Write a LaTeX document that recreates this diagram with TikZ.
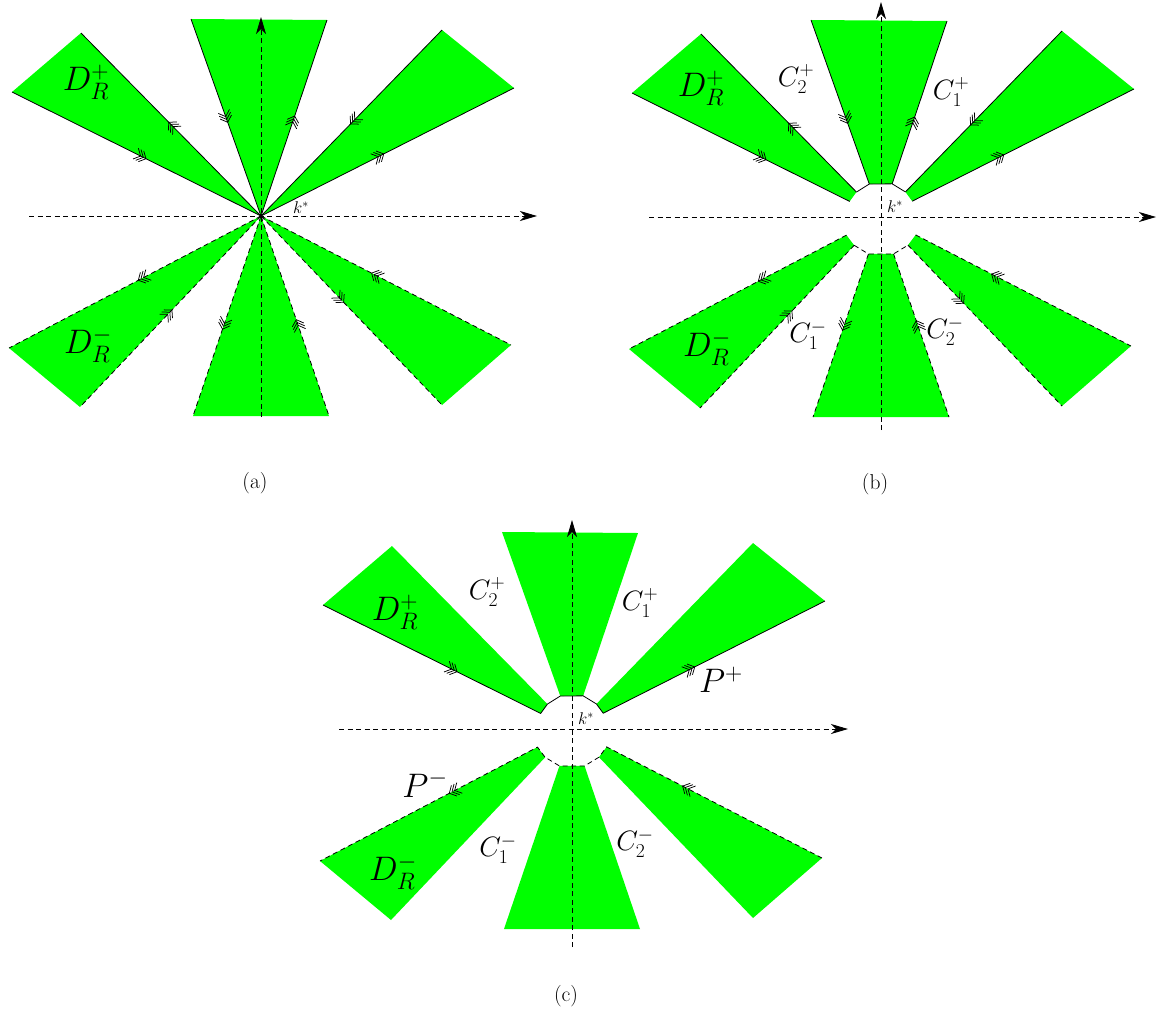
\RequirePackage{fix-cm}
\documentclass[tikz,border=0pt]{standalone}
\usetikzlibrary{calc,decorations.markings,arrows.meta}
\definecolor{wedgegreen}{RGB}{0,255,0}
\newcommand\chevfwd{\draw[solid,line width=0.75pt] (-8pt,6pt)--(-2.5pt,0pt)--(-8pt,-6pt) (-5pt,6pt)--(0.5pt,0pt)--(-5pt,-6pt) (-2pt,6pt)--(3.5pt,0pt)--(-2pt,-6pt);}
\newcommand\chevbwd{\draw[solid,line width=0.75pt] (8pt,6pt)--(2.5pt,0pt)--(8pt,-6pt) (5pt,6pt)--(-0.5pt,0pt)--(5pt,-6pt) (2pt,6pt)--(-3.5pt,0pt)--(2pt,-6pt);}
\newcommand\wedgepts[1]{%
  \coordinate (#1O) at (0,0);
  \coordinate (#1ul1) at (-249,-124);
  \coordinate (#1ul2) at (-180,-183);
  \coordinate (#1t1) at (-70,-197);
  \coordinate (#1t2) at (66,-196);
  \coordinate (#1ur1) at (181,-186);
  \coordinate (#1ur2) at (253,-128);
  \coordinate (#1ll1) at (-252,132);
  \coordinate (#1ll2) at (-181,191);
  \coordinate (#1b1) at (-68,200);
  \coordinate (#1b2) at (68,200);
  \coordinate (#1lr1) at (181,189);
  \coordinate (#1lr2) at (250,129);
}
\newcommand\innerpts[1]{%
  \foreach \p in {ul1,ul2,t1,t2,ur1,ur2}{\coordinate (#1\p i) at ($(#1O)!35pt!(#1\p)$);}
  \foreach \p in {ll1,ll2,b1,b2,lr1,lr2}{\coordinate (#1\p i) at ($(#1O)!39pt!(#1\p)$);}
}
\newcommand\cutwedges[1]{%
  \fill[wedge] (#1ul1i) -- (#1ul1) -- (#1ul2) -- (#1ul2i) -- cycle;
  \fill[wedge] (#1t1i) -- (#1t1) -- (#1t2) -- (#1t2i) -- cycle;
  \fill[wedge] (#1ur1i) -- (#1ur1) -- (#1ur2) -- (#1ur2i) -- cycle;
  \fill[wedge] (#1ll1i) -- (#1ll1) -- (#1ll2) -- (#1ll2i) -- cycle;
  \fill[wedge] (#1b1i) -- (#1b1) -- (#1b2) -- (#1b2i) -- cycle;
  \fill[wedge] (#1lr1i) -- (#1lr1) -- (#1lr2) -- (#1lr2i) -- cycle;
}
\tikzset{
  chevout/.style={postaction={decorate,decoration={markings,mark=at position #1 with {\chevfwd}}}},
  chevin/.style={postaction={decorate,decoration={markings,mark=at position #1 with {\chevbwd}}}},
  edgeline/.style={line width=0.8pt},
  dashedge/.style={line width=0.8pt,dash pattern=on 5pt off 3.5pt},
  axis/.style={line width=0.9pt,dash pattern=on 5pt off 3.5pt,-{Stealth[length=17pt,width=10pt,inset=5pt]}},
  wedge/.style={fill=wedgegreen,draw=none},
  biglabel/.style={inner sep=0pt,font=\fontsize{34}{40}\selectfont},
  clabel/.style={inner sep=0pt,font=\fontsize{28}{32}\selectfont},
  klabel/.style={inner sep=0pt,font=\fontsize{17}{20}\selectfont},
  caplabel/.style={inner sep=0pt,font=\fontsize{21.5}{25}\selectfont},
}
\begin{document}
\begin{tikzpicture}[x=1pt,y=-1pt]
\useasboundingbox (0,0) rectangle (1157,1013);
% ---------------- panel (a)
\begin{scope}[shift={(261,216)}]
  \wedgepts{a}
  \fill[wedge] (aO) -- (aul1) -- (aul2) -- cycle;
  \fill[wedge] (aO) -- (at1) -- (at2) -- cycle;
  \fill[wedge] (aO) -- (aur1) -- (aur2) -- cycle;
  \fill[wedge] (aO) -- (all1) -- (all2) -- cycle;
  \fill[wedge] (aO) -- (ab1) -- (ab2) -- cycle;
  \fill[wedge] (aO) -- (alr1) -- (alr2) -- cycle;
  \coordinate (aXl) at (-232,0); \coordinate (aXr) at (276,0);
  \coordinate (aYb) at (0,201); \coordinate (aYt) at (0,-199);
  \draw[axis] (aXl) -- (aXr);
  \draw[axis] (aYb) -- (aYt);
  \draw[edgeline,chevin=132pt] (aO) -- (aul1);
  \draw[edgeline,chevout=128pt] (aO) -- (aul2);
  \draw[edgeline,chevin=103pt] (aO) -- (at1);
  \draw[edgeline,chevout=102pt] (aO) -- (at2);
  \draw[edgeline,chevin=132pt] (aO) -- (aur1);
  \draw[edgeline,chevout=134pt] (aO) -- (aur2);
  \draw[dashedge,chevout=135pt] (aO) -- (all1);
  \draw[dashedge,chevin=133pt] (aO) -- (all2);
  \draw[dashedge,chevout=116pt] (aO) -- (ab1);
  \draw[dashedge,chevin=113pt] (aO) -- (ab2);
  \draw[dashedge,chevout=116pt] (aO) -- (alr1);
  \draw[dashedge,chevin=128pt] (aO) -- (alr2);
\end{scope}
\node[biglabel] (aDp) at (86,82) {$D_R^+$};
\node[biglabel] (aDm) at (88,345) {$D_R^-$};
\node[klabel] (ak) at (301,208) {$k^*$};
\node[caplabel] (acap) at (255,483) {(a)};
% ---------------- panel (b)
\begin{scope}[shift={(881,217)}]
  \wedgepts{b}
  \innerpts{b}
  \cutwedges{b}
  \coordinate (bXl) at (-232,0); \coordinate (bXr) at (275,0);
  \coordinate (bYb) at (0,213); \coordinate (bYt) at (0,-215);
  \draw[axis] (bXl) -- (bXr);
  \draw[axis] (bYb) -- (bYt);
  \draw[edgeline,chevin=97pt] (bul1i) -- (bul1);
  \draw[edgeline,chevout=93pt] (bul2i) -- (bul2);
  \draw[edgeline,chevin=68pt] (bt1i) -- (bt1);
  \draw[edgeline,chevout=67pt] (bt2i) -- (bt2);
  \draw[edgeline,chevin=97pt] (bur1i) -- (bur1);
  \draw[edgeline,chevout=99pt] (bur2i) -- (bur2);
  \draw[dashedge,chevout=96pt] (bll1i) -- (bll1);
  \draw[dashedge,chevin=94pt] (bll2i) -- (bll2);
  \draw[dashedge,chevout=77pt] (bb1i) -- (bb1);
  \draw[dashedge,chevin=74pt] (bb2i) -- (bb2);
  \draw[dashedge,chevout=77pt] (blr1i) -- (blr1);
  \draw[dashedge,chevin=89pt] (blr2i) -- (blr2);
  \draw[edgeline] (bul2i) -- (bt1i) -- (bt2i) -- (bur1i);
  \draw[dashedge] (bll2i) -- (bb1i) -- (bb2i) -- (blr1i);
\end{scope}
\node[biglabel] (bDp) at (701,88) {$D_R^+$};
\node[biglabel] (bDm) at (707,348) {$D_R^-$};
\node[clabel] (bC2p) at (796,79) {$C_2^+$};
\node[clabel] (bC1p) at (951,92) {$C_1^+$};
\node[clabel] (bC1m) at (808,335) {$C_1^-$};
\node[clabel] (bC2m) at (945,331) {$C_2^-$};
\node[klabel] (bk) at (895,207) {$k^*$};
\node[caplabel] (bcap) at (875,484) {(b)};
% ---------------- panel (c)
\begin{scope}[shift={(572,729)}]
  \wedgepts{c}
  \innerpts{c}
  \cutwedges{c}
  \coordinate (cXl) at (-233,0); \coordinate (cXr) at (276,0);
  \coordinate (cYb) at (0,218); \coordinate (cYt) at (0,-209);
  \draw[axis] (cXl) -- (cXr);
  \draw[axis] (cYb) -- (cYt);
  \draw[edgeline] (cul1) -- (cul1i) -- (cul2i) -- (ct1i) -- (ct2i) -- (cur1i) -- (cur2i) -- (cur2);
  \path[chevin=97pt] (cul1i) -- (cul1);
  \path[chevout=99pt] (cur2i) -- (cur2);
  \draw[dashedge] (clr2) -- (clr2i) -- (clr1i) -- (cb2i) -- (cb1i) -- (cll2i) -- (cll1i) -- (cll1);
  \path[chevout=96pt] (cll1i) -- (cll1);
  \path[chevin=89pt] (clr2i) -- (clr2);
\end{scope}
\node[biglabel] (cDp) at (395,612) {$D_R^+$};
\node[biglabel] (cDm) at (393,872) {$D_R^-$};
\node[clabel] (cC2p) at (487,592) {$C_2^+$};
\node[clabel] (cC1p) at (640,603) {$C_1^+$};
\node[biglabel] (cPp) at (721,680) {$P^+$};
\node[biglabel] (cPm) at (425,784) {$P^-$};
\node[clabel] (cC1m) at (498,849) {$C_1^-$};
\node[clabel] (cC2m) at (635,843) {$C_2^-$};
\node[klabel] (ck) at (586,719) {$k^*$};
\node[caplabel] (ccap) at (566,996) {(c)};
\end{tikzpicture}
\end{document}
